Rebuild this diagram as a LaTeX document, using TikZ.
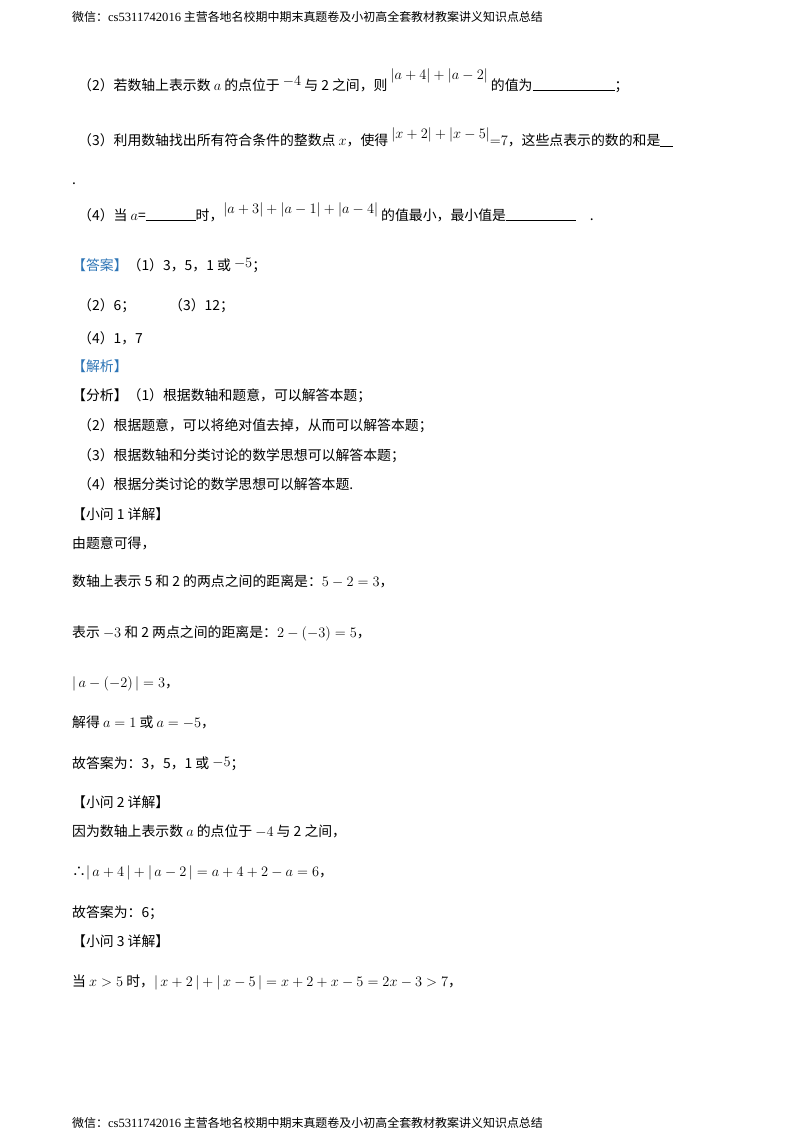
\documentclass[tikz,border=0pt]{standalone}
\usepackage{fontspec}
\setmainfont{Noto Sans CJK SC}[Scale=0.95]
\newfontfamily\lat{Liberation Serif}
\definecolor{hb}{HTML}{2E75B6}
\begin{document}
\begin{tikzpicture}[x=1pt,y=-1pt,
  t/.style={anchor=base west,inner sep=0pt,font=\fontsize{14.6}{17}\selectfont},
  h/.style={anchor=base west,inner sep=0pt,font=\fontsize{12.6}{14}\selectfont},
  blank/.style={line width=0.8pt}]
\useasboundingbox (0,0) rectangle (800,1132);
\node[h] (hd) at (72,22) {微信：{\lat cs5311742016} 主营各地名校期中期末真题卷及小初高全套教材教案讲义知识点总结};
\node[h] (ft) at (72,1127) {微信：{\lat cs5311742016} 主营各地名校期中期末真题卷及小初高全套教材教案讲义知识点总结};

\node[t] (q2) at (78,90) {（2）若数轴上表示数 $a$ 的点位于 \raisebox{5pt}{$-4$} 与 2 之间，则 \raisebox{10pt}{$\left|a+4\right|+\left|a-2\right|$} 的值为\rule[-1pt]{82pt}{0.8pt}；};
\node[t] (q3) at (78,145) {（3）利用数轴找出所有符合条件的整数点 $x$，使得 \raisebox{7pt}{$\left|x+2\right|+\left|x-5\right|$}${=}7$，这些点表示的数的和是};
\draw[blank] (660,146) -- (673,146);
\node[t] (dot) at (72,184) {.};
\node[t] (q4) at (78,220) {（4）当 $a$=\rule[-1pt]{50pt}{0.8pt}时，\raisebox{7pt}{$\left|a+3\right|+\left|a-1\right|+\left|a-4\right|$} 的值最小，最小值是\rule[-1pt]{70pt}{0.8pt}\quad .};

\node[t] (ans) at (72,270) {{\color{hb}【答案】}（1）3，5，1 或 \raisebox{3pt}{$-5$}；};
\node[t] (a2) at (78,310) {（2）6；\hspace{34pt}（3）12；};
\node[t] (a4) at (78,343) {（4）1，7};
\node[t] (jx) at (72,371) {\color{hb}【解析】};
\node[t] (f1) at (72,400) {【分析】（1）根据数轴和题意，可以解答本题；};
\node[t] (f2) at (78,430) {（2）根据题意，可以将绝对值去掉，从而可以解答本题；};
\node[t] (f3) at (78,460) {（3）根据数轴和分类讨论的数学思想可以解答本题；};
\node[t] (f4) at (78,489) {（4）根据分类讨论的数学思想可以解答本题.};
\node[t] (s1) at (72,519) {【小问 1 详解】};
\node[t] (l1) at (72,548) {由题意可得，};
\node[t] (l2) at (72,586) {数轴上表示 5 和 2 的两点之间的距离是：$5-2=3$，};
\node[t] (l3) at (72,637) {表示 $-3$ 和 2 两点之间的距离是：$2-\left(-3\right)=5$，};
\node[t] (l4) at (72,687) {$|\,a-\left(-2\right)|=3$，};
\node[t] (l5) at (72,727) {解得 $a=1$ 或 $a=-5$，};
\node[t] (l6) at (72,768) {故答案为：3，5，1 或 \raisebox{2pt}{$-5$}；};
\node[t] (s2) at (72,807) {【小问 2 详解】};
\node[t] (m1) at (72,836) {因为数轴上表示数 $a$ 的点位于 $-4$ 与 2 之间，};
\node[t] (m2) at (72,876) {∴$|\,a+4\,|+|\,a-2\,|=a+4+2-a=6$，};
\node[t] (m3) at (72,917) {故答案为：6；};
\node[t] (s3) at (72,946) {【小问 3 详解】};
\node[t] (n1) at (72,986) {当 $x>5$ 时，$|\,x+2\,|+|\,x-5\,|=x+2+x-5=2x-3>7$，};
\end{tikzpicture}
\end{document}
